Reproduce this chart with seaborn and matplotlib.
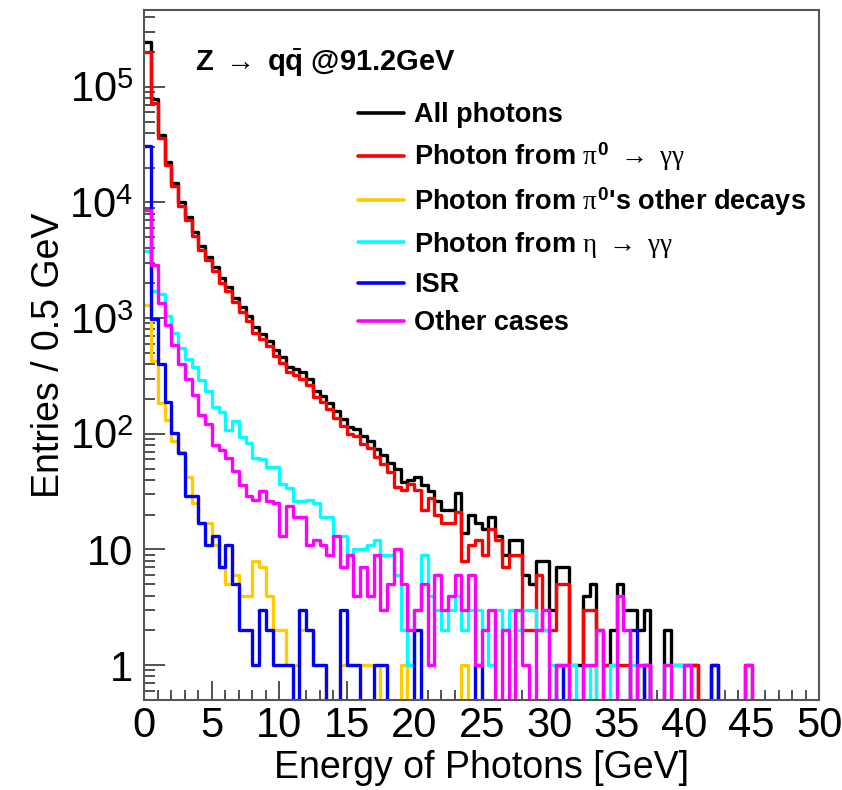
import numpy as np
import pandas as pd
import matplotlib
matplotlib.use("Agg")
import matplotlib.pyplot as plt
import seaborn as sns
from matplotlib.ticker import LogLocator, FuncFormatter, MultipleLocator, NullFormatter, FixedLocator
from matplotlib.lines import Line2D
from matplotlib.font_manager import FontProperties

# ---------------- data (entries per 0.5 GeV bin, 0-50 GeV) ----------------
bin_width = 0.5
n_bins = 100

all_photons = [
    244000, 78000, 38000, 22500, 14700, 10000, 7500, 5500, 4200, 3400,
    2750, 2200, 1850, 1500, 1240, 1040, 830, 735, 640, 530,
    460, 380, 360, 340, 296, 235, 212, 186, 158, 134,
    115, 110, 96, 87, 74, 65, 56, 50, 38, 40,
    42, 36, 32, 26, 22, 22, 31, 14, 20, 17,
    15, 19, 13, 9, 12, 12, 6, 5, 8, 8,
    3, 7, 7, 1, 1, 4, 5, 2, 1, 2,
    5, 3, 3, 2, 3, 0, 0, 2, 1, 1,
    1, 1, 0, 0, 1, 0, 0, 0, 0, 1,
    0, 0, 0, 0, 0, 0, 0, 0, 0, 0]

pi0_gg = [
    200000, 72000, 36000, 21000, 13800, 9400, 7000, 5100, 3900, 3150,
    2550, 2030, 1700, 1380, 1130, 950, 750, 660, 570, 470,
    410, 340, 320, 300, 262, 208, 188, 165, 138, 117,
    100, 95, 82, 75, 63, 55, 47, 35, 33, 37,
    33, 22, 28, 20, 17, 17, 21, 8, 11, 12,
    9, 15, 12, 7, 9, 9, 2, 2, 6, 2,
    2, 5, 5, 0, 0, 3, 3, 0, 1, 1,
    1, 1, 0, 0, 1, 0, 0, 0, 0, 0,
    0, 1, 0, 0, 0, 0, 0, 0, 0, 0,
    0, 0, 0, 0, 0, 0, 0, 0, 0, 0]

pi0_other = [
    1300, 430, 186, 132, 87, 70, 42, 25, 17, 17,
    11, 7, 5, 6, 4, 4, 8, 7, 4, 2,
    2, 1, 1, 2, 2, 1, 1, 0, 0, 1,
    1, 1, 1, 1, 1, 0, 0, 0, 1, 0,
    0, 0, 0, 0, 0, 0, 0, 1, 0, 0,
    0, 0, 0, 0, 0, 0, 0, 0, 0, 0,
    0, 0, 0, 0, 0, 0, 0, 0, 0, 0,
    0, 0, 0, 0, 0, 0, 0, 0, 0, 0,
    0, 0, 0, 0, 0, 0, 0, 0, 0, 0,
    0, 0, 0, 0, 0, 0, 0, 0, 0, 0]

eta_gg = [
    3800, 1700, 1600, 1050, 750, 555, 440, 375, 290, 235,
    170, 155, 108, 128, 93, 84, 62, 60, 52, 52,
    37, 34, 26, 26, 27, 25, 19, 19, 13, 13,
    9, 10, 10, 11, 12, 9, 9, 6, 2, 1,
    3, 9, 4, 3, 2, 3, 4, 2, 3, 3,
    2, 1, 3, 2, 3, 2, 3, 3, 2, 2,
    1, 0, 1, 1, 0, 0, 1, 0, 0, 1,
    0, 0, 1, 1, 0, 0, 0, 1, 1, 1,
    0, 0, 0, 0, 0, 0, 0, 0, 0, 0,
    0, 0, 0, 0, 0, 0, 0, 0, 0, 0]

isr = [
    31000, 990, 400, 190, 102, 68, 29, 29, 17, 11,
    13, 7, 11, 5, 2, 2, 1, 3, 2, 1,
    1, 1, 0, 3, 2, 1, 1, 0, 0, 3,
    1, 1, 0, 0, 1, 1, 0, 0, 0, 0,
    2, 0, 0, 0, 0, 0, 0, 0, 0, 1,
    0, 0, 0, 0, 0, 0, 0, 0, 0, 0,
    0, 1, 0, 0, 0, 0, 0, 0, 0, 0,
    0, 0, 2, 0, 1, 0, 0, 0, 0, 0,
    0, 0, 0, 0, 1, 0, 0, 0, 0, 0,
    0, 0, 0, 0, 0, 0, 0, 0, 0, 0]

other = [
    8600, 2900, 1350, 880, 590, 400, 300, 215, 145, 122,
    80, 72, 62, 48, 36, 29, 27, 32, 26, 25,
    13, 24, 19, 19, 11, 12, 11, 9, 13, 7,
    9, 4, 7, 4, 9, 3, 5, 10, 5, 2,
    3, 5, 1, 6, 3, 4, 6, 3, 6, 1,
    2, 3, 0, 2, 0, 3, 1, 0, 2, 3,
    0, 1, 1, 0, 0, 1, 1, 2, 0, 0,
    4, 2, 0, 1, 1, 0, 0, 1, 0, 0,
    1, 0, 0, 0, 0, 0, 0, 0, 0, 1,
    0, 0, 0, 0, 0, 0, 0, 0, 0, 0]

series_names = ["All photons",
                r"Photon from $\pi^{\mathbf{0}}$ $\rightarrow$ $\gamma\gamma$",
                r"Photon from $\pi^{\mathbf{0}}$'s other decays",
                r"Photon from $\eta$ $\rightarrow$ $\gamma\gamma$",
                "ISR",
                "Other cases"]
series_values = [all_photons, pi0_gg, pi0_other, eta_gg, isr, other]
series_colors = ["#000000", "#FF0000", "#FFCC00", "#00FFFF", "#0000FF", "#FF00FF"]

y_decades = [1, 10, 100, 1000, 10000, 100000]
title_text = r"Z $\rightarrow$ q$\bar{\mathbf{q}}$ @91.2GeV"
x_title = "Energy of Photons [GeV]"
y_title = "Entries / 0.5 GeV"

# ---------------- style ----------------
sns.set_theme(style="white")
plt.rcParams.update({
    "font.family": ["Liberation Sans", "DejaVu Sans"],
    "mathtext.fontset": "custom",
    "mathtext.rm": "Liberation Sans",
    "mathtext.it": "Liberation Serif",
    "mathtext.bf": "Liberation Sans:bold",
    "axes.linewidth": 1.5,
    "text.color": "black",
    "axes.labelcolor": "black",
    "xtick.color": "black",
    "ytick.color": "black",
})

x_max = n_bins * bin_width
centers = np.arange(n_bins) * bin_width + bin_width / 2

frames = []
for name, vals in zip(series_names, series_values):
    frames.append(pd.DataFrame({"energy": centers, "count": vals, "series": name}))
df = pd.concat(frames, ignore_index=True)

fig = plt.figure(figsize=(8.42, 7.90), dpi=100)
ax = fig.add_axes([0.1714, 0.1139, 0.8013, 0.8734])

for name, col in zip(series_names, series_colors):
    sub = df[df["series"] == name]
    sns.histplot(data=sub, x="energy", weights="count", bins=n_bins,
                 binrange=(0, x_max), element="step", fill=False,
                 color=col, linewidth=2.4, ax=ax)

ax.set_yscale("log", nonpositive="clip")
ax.set_xlim(0, x_max)
ax.set_ylim(0.5, 4.6e5)

ax.xaxis.set_major_locator(MultipleLocator(5))
ax.xaxis.set_minor_locator(MultipleLocator(1))
ax.yaxis.set_major_locator(FixedLocator(y_decades))
minor_ticks = [m * d for d in [0.1] + y_decades for m in range(2, 10)
               if 0.5 <= m * d <= 4.6e5]
ax.yaxis.set_minor_locator(FixedLocator(minor_ticks))
ax.yaxis.set_minor_formatter(NullFormatter())


def yfmt(v, pos):
    e = int(round(np.log10(v)))
    if e == 0:
        return "1"
    if e == 1:
        return "10"
    return r"$10^{%d}$" % e


ax.yaxis.set_major_formatter(FuncFormatter(yfmt))

ax.tick_params(axis="both", which="both", direction="in", bottom=True, left=True,
               top=False, right=False, colors="#444444",
               labelcolor="black", labelsize=30)
ax.tick_params(axis="y", which="major", length=15, width=1.3, pad=8)
ax.tick_params(axis="y", which="minor", length=8, width=1.3)
ax.tick_params(axis="x", which="major", length=14, width=1.3, pad=4)
ax.tick_params(axis="x", which="minor", length=7, width=1.3)

for sp in ax.spines.values():
    sp.set_visible(True)
    sp.set_color("#555555")
    sp.set_linewidth(1.5)

ax.set_xlabel(x_title, fontsize=27, labelpad=3)
ax.set_ylabel(y_title, fontsize=27, labelpad=2)

ax.text(0.075, 0.9235, title_text, transform=ax.transAxes, fontsize=21,
        fontweight="bold", va="center", ha="left")

handles = [Line2D([], [], color=c, linewidth=2.6) for c in series_colors]
leg = ax.legend(handles, series_names, loc="upper left",
                bbox_to_anchor=(0.317, 0.866), frameon=False,
                prop=FontProperties(family="Liberation Sans", weight="bold", size=19.5),
                handlelength=1.7, handletextpad=0.35, labelspacing=0.45,
                borderpad=0, borderaxespad=0)

fig.savefig("out.png", dpi=100, facecolor="white")
